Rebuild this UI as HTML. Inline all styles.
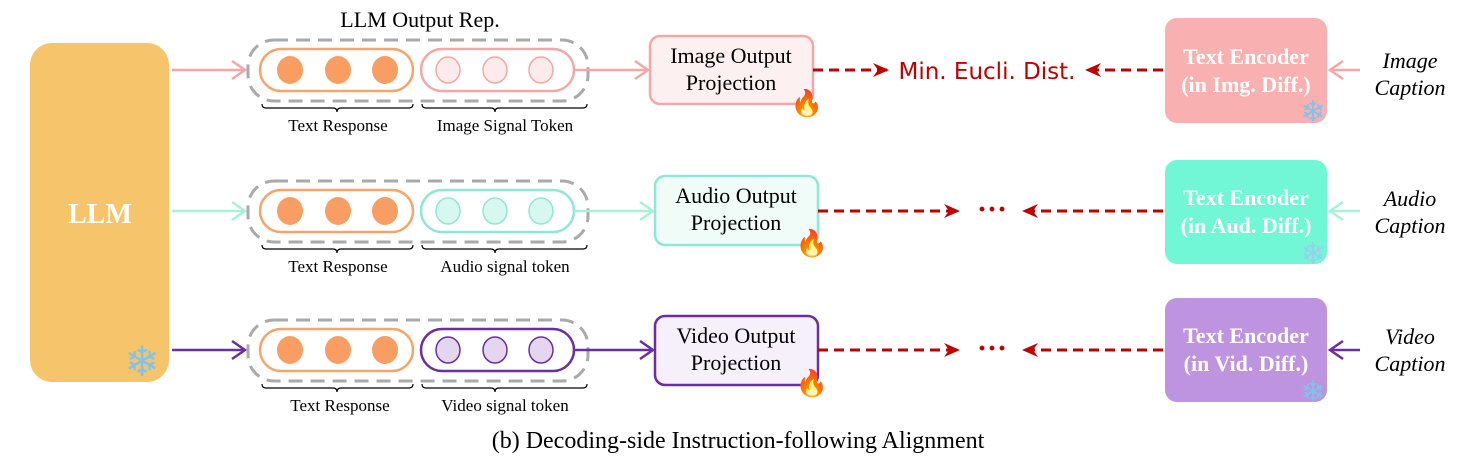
<!DOCTYPE html>
<html><head><meta charset="utf-8"><style>
html,body{margin:0;padding:0;background:#fff;}
svg{display:block;}
.t{font-family:"Liberation Serif",serif;}
</style></head><body>
<svg width="1477" height="468" viewBox="0 0 1477 468" xmlns="http://www.w3.org/2000/svg">
<defs>
<marker id="rh" markerWidth="18" markerHeight="18" refX="14" refY="8" orient="auto" markerUnits="userSpaceOnUse">
<path d="M0,1 L16,8 L0,15 L5,8 Z" fill="#c00000"/></marker>
</defs>
<!-- LLM -->
<rect x="30" y="43" width="139" height="339" rx="22" fill="#f6c46a"/>
<text x="100" y="223" text-anchor="middle" class="t" font-size="28" font-weight="bold" fill="#fff">LLM</text>
<text x="142" y="376" text-anchor="middle" font-size="42" fill="#7fc4ea" font-family="DejaVu Sans,sans-serif">❄</text>

<text x="420" y="27" text-anchor="middle" class="t" font-size="22">LLM Output Rep.</text>

<!-- Row 1 -->
<g>
<line x1="172" y1="70" x2="244" y2="70" stroke="#f4a7a7" stroke-width="2.5"/>
<path d="M232,61 L245,70 L232,79" fill="none" stroke="#f4a7a7" stroke-width="2.5"/>
<rect x="248" y="40" width="340" height="61" rx="26" fill="none" stroke="#aaa" stroke-width="3" stroke-dasharray="14 8"/>
<rect x="260" y="49" width="153" height="42" rx="21" fill="#fff" stroke="#f7a46a" stroke-width="2.5"/>
<ellipse cx="290" cy="70" rx="13" ry="14" fill="#f99e63"/><ellipse cx="338" cy="70" rx="13" ry="14" fill="#f99e63"/><ellipse cx="385" cy="70" rx="13" ry="14" fill="#f99e63"/>
<rect x="421" y="49" width="153" height="42" rx="21" fill="#fff" stroke="#f4a7a7" stroke-width="2.5"/>
<ellipse cx="448" cy="70" rx="12" ry="13" fill="#fdeaea" stroke="#f4a7a7" stroke-width="1.5"/><ellipse cx="495" cy="70" rx="12" ry="13" fill="#fdeaea" stroke="#f4a7a7" stroke-width="1.5"/><ellipse cx="541" cy="70" rx="12" ry="13" fill="#fdeaea" stroke="#f4a7a7" stroke-width="1.5"/>
<path d="M262,104 q0,4 4,4 H333 q4,0 4,4 q0,-4 4,-4 H409 q4,0 4,-4 M422,104 q0,4 4,4 H491 q4,0 4,4 q0,-4 4,-4 H583 q4,0 4,-4" fill="none" stroke="#000" stroke-width="1.2"/>
<text x="338" y="131" text-anchor="middle" class="t" font-size="17">Text Response</text>
<text x="505" y="131" text-anchor="middle" class="t" font-size="17">Image Signal Token</text>
<line x1="574" y1="70" x2="647" y2="70" stroke="#f4a7a7" stroke-width="2.5"/>
<path d="M635,61 L648,70 L635,79" fill="none" stroke="#f4a7a7" stroke-width="2.5"/>
<rect x="650" y="36" width="163" height="68" rx="10" fill="#fdf0f0" stroke="#f4a7a7" stroke-width="2.5"/>
<text x="731" y="63" text-anchor="middle" class="t" font-size="22">Image Output</text>
<text x="731" y="90" text-anchor="middle" class="t" font-size="22">Projection</text>
<text x="807" y="112" text-anchor="middle" font-size="26">🔥</text>
<line x1="813" y1="70" x2="887" y2="70" stroke="#c00000" stroke-width="3" stroke-dasharray="10 6" marker-end="url(#rh)"/>
<text x="987" y="79" text-anchor="middle" font-family="DejaVu Sans,sans-serif" font-size="23" fill="#c00000">Min. Eucli. Dist.</text>
<line x1="1163" y1="70" x2="1087" y2="70" stroke="#c00000" stroke-width="3" stroke-dasharray="10 6" marker-end="url(#rh)"/>
<rect x="1165" y="18" width="162" height="105" rx="12" fill="#f8b0b0"/>
<text x="1246" y="64" text-anchor="middle" class="t" font-size="22" font-weight="bold" fill="#fff">Text Encoder</text>
<text x="1246" y="92" text-anchor="middle" class="t" font-size="22" font-weight="bold" fill="#fff">(in Img. Diff.)</text>
<text x="1313" y="122" text-anchor="middle" font-size="30" fill="#7fc4ea" font-family="DejaVu Sans,sans-serif">❄</text>
<line x1="1360" y1="70" x2="1331" y2="70" stroke="#f4a7a7" stroke-width="2.5"/>
<path d="M1343,61 L1330,70 L1343,79" fill="none" stroke="#f4a7a7" stroke-width="2.5"/>
<text x="1410" y="68" text-anchor="middle" class="t" font-size="22" font-style="italic">Image</text>
<text x="1410" y="95" text-anchor="middle" class="t" font-size="22" font-style="italic">Caption</text>
</g>
<!-- Row 2 -->
<g>
<line x1="172" y1="211" x2="244" y2="211" stroke="#a8f0d8" stroke-width="2.5"/>
<path d="M232,202 L245,211 L232,220" fill="none" stroke="#a8f0d8" stroke-width="2.5"/>
<rect x="248" y="181" width="340" height="61" rx="26" fill="none" stroke="#aaa" stroke-width="3" stroke-dasharray="14 8"/>
<rect x="260" y="190" width="153" height="42" rx="21" fill="#fff" stroke="#f7a46a" stroke-width="2.5"/>
<ellipse cx="290" cy="211" rx="13" ry="14" fill="#f99e63"/><ellipse cx="338" cy="211" rx="13" ry="14" fill="#f99e63"/><ellipse cx="385" cy="211" rx="13" ry="14" fill="#f99e63"/>
<rect x="421" y="190" width="153" height="42" rx="21" fill="#fff" stroke="#8de8d4" stroke-width="2.5"/>
<ellipse cx="448" cy="211" rx="12" ry="13" fill="#d8f7ef" stroke="#8de8d4" stroke-width="1.5"/><ellipse cx="495" cy="211" rx="12" ry="13" fill="#d8f7ef" stroke="#8de8d4" stroke-width="1.5"/><ellipse cx="541" cy="211" rx="12" ry="13" fill="#d8f7ef" stroke="#8de8d4" stroke-width="1.5"/>
<path d="M262,245 q0,4 4,4 H333 q4,0 4,4 q0,-4 4,-4 H409 q4,0 4,-4 M422,245 q0,4 4,4 H491 q4,0 4,4 q0,-4 4,-4 H583 q4,0 4,-4" fill="none" stroke="#000" stroke-width="1.2"/>
<text x="338" y="272" text-anchor="middle" class="t" font-size="17">Text Response</text>
<text x="505" y="272" text-anchor="middle" class="t" font-size="17">Audio signal token</text>
<line x1="574" y1="211" x2="652" y2="211" stroke="#a8f0d8" stroke-width="2.5"/>
<path d="M640,202 L653,211 L640,220" fill="none" stroke="#a8f0d8" stroke-width="2.5"/>
<rect x="655" y="176" width="163" height="69" rx="10" fill="#effcf8" stroke="#8de8d4" stroke-width="2.5"/>
<text x="736" y="203" text-anchor="middle" class="t" font-size="22">Audio Output</text>
<text x="736" y="230" text-anchor="middle" class="t" font-size="22">Projection</text>
<text x="812" y="252" text-anchor="middle" font-size="26">🔥</text>
<line x1="818" y1="211" x2="958" y2="211" stroke="#c00000" stroke-width="3" stroke-dasharray="10 6" marker-end="url(#rh)"/>
<text x="992" y="219" text-anchor="middle" class="t" font-size="30" fill="#c00000" font-weight="bold">···</text>
<line x1="1163" y1="211" x2="1024" y2="211" stroke="#c00000" stroke-width="3" stroke-dasharray="10 6" marker-end="url(#rh)"/>
<rect x="1165" y="160" width="162" height="104" rx="12" fill="#72f7d6"/>
<text x="1246" y="205" text-anchor="middle" class="t" font-size="22" font-weight="bold" fill="#fff">Text Encoder</text>
<text x="1246" y="233" text-anchor="middle" class="t" font-size="22" font-weight="bold" fill="#fff">(in Aud. Diff.)</text>
<text x="1313" y="264" text-anchor="middle" font-size="30" fill="#9ccdf0" font-family="DejaVu Sans,sans-serif">❄</text>
<line x1="1360" y1="211" x2="1331" y2="211" stroke="#a8f0d8" stroke-width="2.5"/>
<path d="M1343,202 L1330,211 L1343,220" fill="none" stroke="#a8f0d8" stroke-width="2.5"/>
<text x="1410" y="206" text-anchor="middle" class="t" font-size="22" font-style="italic">Audio</text>
<text x="1410" y="233" text-anchor="middle" class="t" font-size="22" font-style="italic">Caption</text>
</g>
<!-- Row 3 -->
<g>
<line x1="172" y1="350" x2="244" y2="350" stroke="#6a2fa0" stroke-width="2.5"/>
<path d="M232,341 L245,350 L232,359" fill="none" stroke="#6a2fa0" stroke-width="2.5"/>
<rect x="248" y="320" width="340" height="61" rx="26" fill="none" stroke="#aaa" stroke-width="3" stroke-dasharray="14 8"/>
<rect x="260" y="329" width="153" height="42" rx="21" fill="#fff" stroke="#f7a46a" stroke-width="2.5"/>
<ellipse cx="290" cy="350" rx="13" ry="14" fill="#f99e63"/><ellipse cx="338" cy="350" rx="13" ry="14" fill="#f99e63"/><ellipse cx="385" cy="350" rx="13" ry="14" fill="#f99e63"/>
<rect x="421" y="329" width="153" height="42" rx="21" fill="#fff" stroke="#6a2fa0" stroke-width="2.5"/>
<ellipse cx="448" cy="350" rx="12" ry="13" fill="#e3d6ee" stroke="#6a2fa0" stroke-width="1.5"/><ellipse cx="495" cy="350" rx="12" ry="13" fill="#e3d6ee" stroke="#6a2fa0" stroke-width="1.5"/><ellipse cx="541" cy="350" rx="12" ry="13" fill="#e3d6ee" stroke="#6a2fa0" stroke-width="1.5"/>
<path d="M262,384 q0,4 4,4 H333 q4,0 4,4 q0,-4 4,-4 H409 q4,0 4,-4 M422,384 q0,4 4,4 H491 q4,0 4,4 q0,-4 4,-4 H583 q4,0 4,-4" fill="none" stroke="#000" stroke-width="1.2"/>
<text x="340" y="411" text-anchor="middle" class="t" font-size="17">Text Response</text>
<text x="505" y="411" text-anchor="middle" class="t" font-size="17">Video signal token</text>
<line x1="574" y1="350" x2="652" y2="350" stroke="#6a2fa0" stroke-width="2.5"/>
<path d="M640,341 L653,350 L640,359" fill="none" stroke="#6a2fa0" stroke-width="2.5"/>
<rect x="655" y="316" width="163" height="69" rx="10" fill="#f6f0fa" stroke="#6a2fa0" stroke-width="2.5"/>
<text x="736" y="343" text-anchor="middle" class="t" font-size="22">Video Output</text>
<text x="736" y="370" text-anchor="middle" class="t" font-size="22">Projection</text>
<text x="812" y="392" text-anchor="middle" font-size="26">🔥</text>
<line x1="818" y1="350" x2="958" y2="350" stroke="#c00000" stroke-width="3" stroke-dasharray="10 6" marker-end="url(#rh)"/>
<text x="992" y="358" text-anchor="middle" class="t" font-size="30" fill="#c00000" font-weight="bold">···</text>
<line x1="1163" y1="350" x2="1024" y2="350" stroke="#c00000" stroke-width="3" stroke-dasharray="10 6" marker-end="url(#rh)"/>
<rect x="1165" y="298" width="162" height="104" rx="12" fill="#be93df"/>
<text x="1246" y="343" text-anchor="middle" class="t" font-size="22" font-weight="bold" fill="#fff">Text Encoder</text>
<text x="1246" y="371" text-anchor="middle" class="t" font-size="22" font-weight="bold" fill="#fff">(in Vid. Diff.)</text>
<text x="1313" y="402" text-anchor="middle" font-size="30" fill="#7fc4ea" font-family="DejaVu Sans,sans-serif">❄</text>
<line x1="1360" y1="350" x2="1331" y2="350" stroke="#6a2fa0" stroke-width="2.5"/>
<path d="M1343,341 L1330,350 L1343,359" fill="none" stroke="#6a2fa0" stroke-width="2.5"/>
<text x="1410" y="344" text-anchor="middle" class="t" font-size="22" font-style="italic">Video</text>
<text x="1410" y="371" text-anchor="middle" class="t" font-size="22" font-style="italic">Caption</text>
</g>
<text x="738" y="448" text-anchor="middle" class="t" font-size="24">(b) Decoding-side Instruction-following Alignment</text>
</svg>
</body></html>
